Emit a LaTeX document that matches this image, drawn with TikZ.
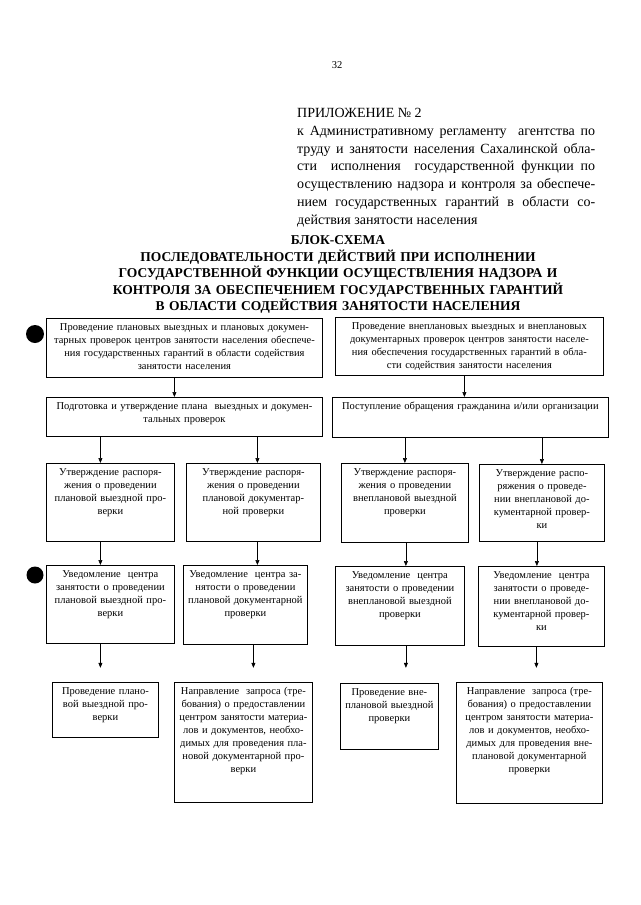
\documentclass[tikz,border=0pt]{standalone}
\usepackage{fontspec}
\setmainfont{Liberation Serif}
\usepackage{tikz}
\usetikzlibrary{arrows.meta,positioning,calc}
\hyphenpenalty=10000

\begin{document}
\begin{tikzpicture}[x=1pt,y=-1pt,
  blok/.style={draw,line width=0.8pt,anchor=north west,align=center,inner xsep=3pt,inner ysep=3pt,
    text height=9pt,font=\fontsize{10.5}{13}\selectfont},
  pil/.style={line width=0.6pt,-{Triangle[length=5pt,width=4pt]}}]
  \useasboundingbox (0,0) rectangle (640,905); % размер страницы
  \fill[white] (0,0) rectangle (640,905); % белый фон
  \node[anchor=base,font=\fontsize{10.5}{12}\selectfont] (nomer) at (337,68.5) {32}; % номер страницы
  \node[anchor=base west,text width=298pt,inner sep=0pt,align=justify,font=\fontsize{14}{17.8}\selectfont] (prilozh) at (297,117.5)
    {ПРИЛОЖЕНИЕ № 2\\к Административному регламенту \ агентства по\linebreak
     труду и занятости населения Сахалинской обла-\linebreak
     сти \ исполнения \ государственной функции по\linebreak
     осуществлению надзора и контроля за обеспече-\linebreak
     нием государственных гарантий в области со-\linebreak
     действия занятости населения}; % приложение в правом верхнем углу
  \node[anchor=base,text width=520pt,inner sep=0pt,align=center,font=\bfseries\fontsize{13.5}{16.6}\selectfont] (titel) at (338,244.5)
    {БЛОК-СХЕМА\\ПОСЛЕДОВАТЕЛЬНОСТИ ДЕЙСТВИЙ ПРИ ИСПОЛНЕНИИ\\ГОСУДАРСТВЕННОЙ ФУНКЦИИ ОСУЩЕСТВЛЕНИЯ НАДЗОРА И\\
     КОНТРОЛЯ ЗА ОБЕСПЕЧЕНИЕМ ГОСУДАРСТВЕННЫХ ГАРАНТИЙ\\В ОБЛАСТИ СОДЕЙСТВИЯ ЗАНЯТОСТИ НАСЕЛЕНИЯ}; % заголовок

  \fill (35,334) circle (9pt); % черный кружок у верхнего блока
  \fill (35,575) circle (8.5pt); % черный кружок у блока уведомления

  \node[blok,text width=270pt,text depth=44pt] (a1) at (46,318)
    {Проведение плановых выездных и плановых докумен-\\тарных проверок центров занятости населения обеспече-\\ния государственных гарантий в области содействия\\занятости населения}; % плановые проверки
  \node[blok,text width=262pt,text depth=43pt] (a2) at (335,317)
    {Проведение внеплановых выездных и внеплановых\\документарных проверок центров занятости населе-\\ния обеспечения государственных гарантий в обла-\\сти содействия занятости населения}; % внеплановые проверки
  \node[blok,text width=270pt,text depth=24pt] (b1) at (46,397)
    {Подготовка и утверждение плана \ выездных и докумен-\\тальных проверок};
  \node[blok,text width=270pt,text depth=25pt] (b2) at (332,397)
    {Поступление обращения гражданина и/или организации};

  \node[blok,text width=122pt,text depth=63pt] (c1) at (46,463)
    {Утверждение распоря-\\жения о проведении\\плановой выездной про-\\верки};
  \node[blok,text width=128pt,text depth=63pt] (c2) at (186,463)
    {Утверждение распоря-\\жения о проведении\\плановой документар-\\ной проверки};
  \node[blok,text width=121pt,text depth=64pt] (c3) at (341,463)
    {Утверждение распоря-\\жения о проведении\\внеплановой выездной\\проверки};
  \node[blok,text width=119pt,text depth=62pt] (c4) at (479,464)
    {Утверждение распо-\\ряжения о проведе-\\нии внеплановой до-\\кументарной провер-\\ки};

  \node[blok,text width=122pt,text depth=63pt] (d1) at (46,565)
    {Уведомление \ центра\\занятости о проведении\\плановой выездной про-\\верки};
  \node[blok,text width=118pt,text depth=64pt] (d2) at (183,565)
    {Уведомление \ центра за-\\нятости о проведении\\плановой документарной\\проверки};
  \node[blok,text width=123pt,text depth=64pt] (d3) at (335,566)
    {Уведомление \ центра\\занятости о проведении\\внеплановой выездной\\проверки};
  \node[blok,text width=120pt,text depth=65pt] (d4) at (478,566)
    {Уведомление \ центра\\занятости о проведе-\\нии внеплановой до-\\кументарной провер-\\ки};

  \node[blok,text width=100pt,text depth=40pt] (e1) at (52,682)
    {Проведение плано-\\вой выездной про-\\верки};
  \node[blok,text width=132pt,text depth=105pt] (e2) at (174,682)
    {Направление \ запроса (тре-\\бования) о предоставлении\\центром занятости материа-\\лов и документов, необхо-\\димых для проведения пла-\\новой документарной про-\\верки};
  \node[blok,text width=92pt,text depth=51pt] (e3) at (340,683)
    {Проведение вне-\\плановой выездной\\проверки};
  \node[blok,text width=140pt,text depth=106pt] (e4) at (456,682)
    {Направление \ запроса (тре-\\бования) о предоставлении\\центром занятости материа-\\лов и документов, необхо-\\димых для проведения вне-\\плановой документарной\\проверки};

  % стрелки между блоками
  \draw[pil] ([xshift=-10pt]a1.south) -- ([xshift=-10pt]a1.south |- b1.north);
  \draw[pil] ([xshift=-5pt]a2.south) -- ([xshift=-5pt]a2.south |- b2.north);
  \draw[pil] ([xshift=-10pt]c1.north |- b1.south) -- ([xshift=-10pt]c1.north);
  \draw[pil] ([xshift=4pt]c2.north |- b1.south) -- ([xshift=4pt]c2.north);
  \draw[pil] (c3.north |- b2.south) -- (c3.north);
  \draw[pil] (c4.north |- b2.south) -- (c4.north);
  \draw[pil] ([xshift=-10pt]c1.south) -- ([xshift=-10pt]d1.north);
  \draw[pil] ([xshift=4pt]c2.south) -- ([xshift=4pt]c2.south |- d2.north);
  \draw[pil] ([xshift=1pt]c3.south) -- ([xshift=1pt]c3.south |- d3.north);
  \draw[pil] ([xshift=-5pt]c4.south) -- ([xshift=-5pt]c4.south |- d4.north);
  % стрелки от уведомлений не доходят до нижних блоков
  \coordinate (e1ein) at ([xshift=-10pt,yshift=-24pt]d1.south);
  \coordinate (e2ein) at ([xshift=8pt,yshift=-23pt]d2.south);
  \coordinate (e3ein) at ([xshift=6pt,yshift=-22pt]d3.south);
  \coordinate (e4ein) at ([xshift=-5pt,yshift=-21pt]d4.south);
  \draw[pil] (d1.south -| e1ein) -- (e1ein);
  \draw[pil] (d2.south -| e2ein) -- (e2ein);
  \draw[pil] (d3.south -| e3ein) -- (e3ein);
  \draw[pil] (d4.south -| e4ein) -- (e4ein);
\end{tikzpicture}
\end{document}
